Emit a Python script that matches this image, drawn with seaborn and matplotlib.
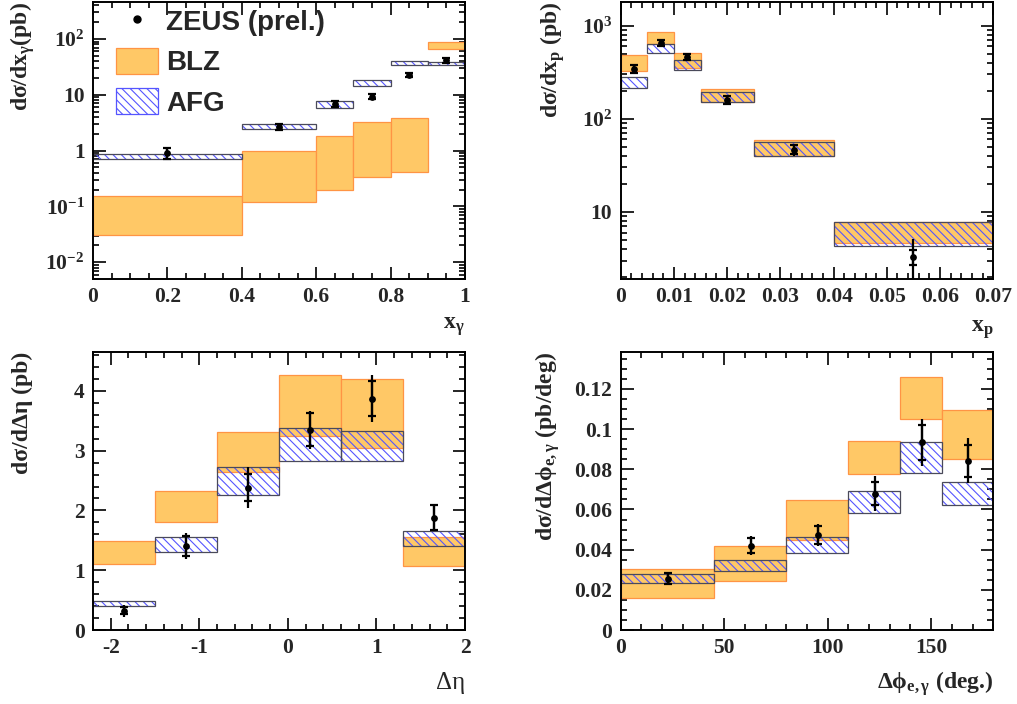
import numpy as np
import matplotlib
matplotlib.use('Agg')
import matplotlib.pyplot as plt
import matplotlib.ticker as mticker
from matplotlib.patches import Patch
from matplotlib.lines import Line2D
import seaborn as sns

# ---- data: x_gamma ----
xg_edges = [0, 0.4, 0.6, 0.7, 0.8, 0.9, 1.0]
xg_blz_lo = [0.031, 0.12, 0.197, 0.33, 0.42, 67]
xg_blz_hi = [0.156, 1.0, 1.8, 3.2, 3.8, 87]
xg_afg_lo = [0.70, 2.42, 5.9, 14.3, 33.7, 33.7]
xg_afg_hi = [0.87, 3.0, 7.6, 18.4, 40, 39]
xg_x = [0.2, 0.5, 0.65, 0.75, 0.85, 0.95]
xg_y = [0.90, 2.7, 6.9, 9.3, 22.6, 41.5]
xg_stat = [0.2, 0.35, 0.9, 1.0, 2.0, 4.0]
xg_tot = [0.22, 0.4, 1.0, 1.1, 2.3, 4.5]

# ---- data: x_p ----
xp_edges = [0, 0.005, 0.01, 0.015, 0.025, 0.04, 0.07]
xp_blz_lo = [327, 630, 352, 150, 40.3, 4.6]
xp_blz_hi = [489, 862, 513, 209, 58.8, 7.8]
xp_afg_lo = [212, 509, 331, 152, 40.3, 4.3]
xp_afg_hi = [282, 630, 428, 192, 56, 7.8]
xp_x = [0.0025, 0.0075, 0.0125, 0.02, 0.0325, 0.055]
xp_y = [346, 657, 461, 161, 46.7, 3.3]
xp_stat = [35, 45, 35, 15, 5, 0.6]
xp_tot = [45, 55, 45, 20, 7, 1.8]

# ---- data: delta eta ----
de_edges = [-2.2, -1.5, -0.8, -0.1, 0.6, 1.3, 2.0]
de_blz_lo = [1.107, 1.80, 2.64, 3.24, 3.04, 1.07]
de_blz_hi = [1.49, 2.33, 3.32, 4.26, 4.20, 1.55]
de_afg_lo = [0.395, 1.30, 2.25, 2.82, 2.83, 1.40]
de_afg_hi = [0.484, 1.56, 2.73, 3.38, 3.33, 1.65]
de_x = [-1.85, -1.15, -0.45, 0.25, 0.95, 1.65]
de_y = [0.32, 1.41, 2.38, 3.35, 3.87, 1.88]
de_stat = [0.06, 0.17, 0.23, 0.28, 0.29, 0.215]
de_tot = [0.10, 0.22, 0.34, 0.32, 0.39, 0.215]

# ---- data: delta phi ----
dp_edges = [0, 45, 80, 110, 135, 155, 180]
dp_blz_lo = [0.0158, 0.0242, 0.045, 0.0775, 0.1049, 0.0853]
dp_blz_hi = [0.0304, 0.0417, 0.0647, 0.0941, 0.1258, 0.1094]
dp_afg_lo = [0.0232, 0.0292, 0.0385, 0.0581, 0.078, 0.0621]
dp_afg_hi = [0.0279, 0.0349, 0.0461, 0.0692, 0.0936, 0.0739]
dp_x = [23, 63, 95.5, 123, 145.5, 168]
dp_y = [0.0256, 0.042, 0.0473, 0.0679, 0.0934, 0.0843]
dp_stat = [0.0028, 0.0036, 0.0047, 0.0057, 0.0089, 0.008]
dp_tot = [0.0030, 0.0046, 0.0053, 0.0087, 0.0118, 0.0111]

BLZ_FACE = '#ffc866'
BLZ_EDGE = '#ff9444'
AFG_HATCH = '#5555ff'
AFG_EDGE = '#4a4a5a'
TICK_SIZE = 15.5

sns.set_theme(style='ticks')
plt.rcParams['font.family'] = ['Liberation Serif', 'DejaVu Serif']
plt.rcParams['font.weight'] = 'bold'
plt.rcParams['mathtext.fontset'] = 'custom'
plt.rcParams['mathtext.rm'] = 'Liberation Serif:bold'
plt.rcParams['mathtext.it'] = 'Liberation Serif:bold'
plt.rcParams['mathtext.bf'] = 'Liberation Serif:bold'
plt.rcParams['mathtext.default'] = 'rm'
plt.rcParams['hatch.linewidth'] = 0.8
plt.rcParams['axes.linewidth'] = 1.4
plt.rcParams['axes.edgecolor'] = 'black'

fig = plt.figure(figsize=(10.17, 7.04), dpi=100)
ax1 = fig.add_axes([0.0914, 0.6037, 0.3658, 0.3935])
ax2 = fig.add_axes([0.6103, 0.6037, 0.3664, 0.3935])
ax3 = fig.add_axes([0.0914, 0.1051, 0.3658, 0.3949])
ax4 = fig.add_axes([0.6103, 0.1051, 0.3664, 0.3949])


def draw_panel(ax, edges, blz_lo, blz_hi, afg_lo, afg_hi, x, y, stat, tot):
    edges = np.array(edges)
    widths = np.diff(edges)
    blz_lo, blz_hi = np.array(blz_lo), np.array(blz_hi)
    afg_lo, afg_hi = np.array(afg_lo), np.array(afg_hi)
    ax.bar(edges[:-1], blz_hi - blz_lo, bottom=blz_lo, width=widths, align='edge',
           color=BLZ_FACE, edgecolor=BLZ_EDGE, linewidth=0.9, zorder=1)
    ax.bar(edges[:-1], afg_hi - afg_lo, bottom=afg_lo, width=widths, align='edge',
           facecolor='none', edgecolor=AFG_HATCH, hatch='\\\\\\\\', linewidth=0, zorder=2)
    ax.bar(edges[:-1], afg_hi - afg_lo, bottom=afg_lo, width=widths, align='edge',
           facecolor='none', edgecolor=AFG_EDGE, linewidth=0.9, zorder=2)
    ax.errorbar(x, y, yerr=tot, fmt='none', ecolor='black', elinewidth=1.6, capsize=0, zorder=4)
    ax.errorbar(x, y, yerr=stat, fmt='none', ecolor='black', elinewidth=1.6, capsize=3.2,
                capthick=1.6, zorder=4)
    sns.scatterplot(x=x, y=y, ax=ax, color='black', s=24, linewidth=0, zorder=5, legend=False)
    ax.set_xlim(edges[0], edges[-1])


def style_axis(ax):
    ax.tick_params(which='both', direction='in', top=True, right=True, width=1.2,
                   labelsize=TICK_SIZE, pad=6, color='black')
    ax.tick_params(which='major', length=9)
    ax.tick_params(which='minor', length=4.5)
    for lab in ax.get_xticklabels() + ax.get_yticklabels():
        lab.set_fontweight('bold')
    for sp in ax.spines.values():
        sp.set_visible(True)
        sp.set_linewidth(1.4)
    ax.grid(False)


# panel 1
draw_panel(ax1, xg_edges, xg_blz_lo, xg_blz_hi, xg_afg_lo, xg_afg_hi, xg_x, xg_y, xg_stat, xg_tot)
ax1.set_yscale('log')
ax1.set_ylim(5e-3, 460)
ax1.set_xticks([0, 0.2, 0.4, 0.6, 0.8, 1.0], ['0', '0.2', '0.4', '0.6', '0.8', '1'])
ax1.xaxis.set_minor_locator(mticker.MultipleLocator(0.05))
ax1.set_yticks([1e-2, 1e-1, 1, 10, 100],
               [r'$10^{-2}$', r'$10^{-1}$', '1', '10', r'$10^{2}$'])
ax1.yaxis.set_minor_locator(mticker.LogLocator(base=10, subs=np.arange(2, 10)))
ax1.yaxis.set_minor_formatter(mticker.NullFormatter())
ax1.set_ylabel(r'd$\sigma$/dx$_{\gamma}$(pb)', fontsize=17, fontweight='bold', loc='top')
ax1.yaxis.set_label_coords(-0.15, 1.0)
ax1.set_xlabel(r'x$_{\gamma}$', fontsize=17, fontweight='bold', loc='right')
ax1.xaxis.set_label_coords(1.0, -0.13)
style_axis(ax1)

handles = [
    Line2D([], [], marker='o', color='black', linestyle='none', markersize=5),
    Patch(facecolor=BLZ_FACE, edgecolor=BLZ_EDGE, linewidth=0.9),
    Patch(facecolor='white', edgecolor=AFG_HATCH, hatch='\\\\\\\\', linewidth=0.9),
]
leg = ax1.legend(handles, ['ZEUS (prel.)', 'BLZ', 'AFG'], loc='upper left',
                 bbox_to_anchor=(-0.004, 1.07), frameon=False, handlelength=1.5,
                 handleheight=1.05, handletextpad=0.3, labelspacing=0.43,
                 prop={'family': 'Liberation Sans', 'weight': 'bold', 'size': 20})

# panel 2
draw_panel(ax2, xp_edges, xp_blz_lo, xp_blz_hi, xp_afg_lo, xp_afg_hi, xp_x, xp_y, xp_stat, xp_tot)
ax2.set_yscale('log')
ax2.set_ylim(1.9, 1800)
ax2.set_xticks([0, 0.01, 0.02, 0.03, 0.04, 0.05, 0.06, 0.07],
               ['0', '0.01', '0.02', '0.03', '0.04', '0.05', '0.06', '0.07'])
ax2.xaxis.set_minor_locator(mticker.MultipleLocator(0.002))
ax2.set_yticks([10, 100, 1000], ['10', r'$10^{2}$', r'$10^{3}$'])
ax2.yaxis.set_minor_locator(mticker.LogLocator(base=10, subs=np.arange(2, 10)))
ax2.yaxis.set_minor_formatter(mticker.NullFormatter())
ax2.set_ylabel(r'd$\sigma$/dx$_{p}$ (pb)', fontsize=17, fontweight='bold', loc='top')
ax2.yaxis.set_label_coords(-0.144, 1.0)
ax2.set_xlabel(r'x$_{p}$', fontsize=17, fontweight='bold', loc='right')
ax2.xaxis.set_label_coords(1.0, -0.14)
style_axis(ax2)

# panel 3
draw_panel(ax3, de_edges, de_blz_lo, de_blz_hi, de_afg_lo, de_afg_hi, de_x, de_y, de_stat, de_tot)
ax3.set_ylim(0, 4.65)
ax3.set_xticks([-2, -1, 0, 1, 2], ['-2', '-1', '0', '1', '2'])
ax3.xaxis.set_minor_locator(mticker.MultipleLocator(0.2))
ax3.set_yticks([0, 1, 2, 3, 4], ['0', '1', '2', '3', '4'])
ax3.yaxis.set_minor_locator(mticker.MultipleLocator(0.2))
ax3.set_ylabel('dσ/dΔη (pb)', fontsize=17, fontweight='bold', loc='top')
ax3.yaxis.set_label_coords(-0.161, 1.0)
ax3.set_xlabel('Δη', fontsize=18, fontweight='normal', loc='right')
ax3.xaxis.set_label_coords(1.0, -0.15)
style_axis(ax3)

# panel 4
draw_panel(ax4, dp_edges, dp_blz_lo, dp_blz_hi, dp_afg_lo, dp_afg_hi, dp_x, dp_y, dp_stat, dp_tot)
ax4.set_ylim(0, 0.1384)
ax4.set_xticks([0, 50, 100, 150], ['0', '50', '100', '150'])
ax4.xaxis.set_minor_locator(mticker.MultipleLocator(10))
ax4.set_yticks([0, 0.02, 0.04, 0.06, 0.08, 0.1, 0.12],
               ['0', '0.02', '0.04', '0.06', '0.08', '0.1', '0.12'])
ax4.yaxis.set_minor_locator(mticker.MultipleLocator(0.005))
ax4.set_ylabel(r'd$\sigma$/d$\Delta\phi_{e,\gamma}$ (pb/deg)', fontsize=17,
               fontweight='bold', loc='top')
ax4.yaxis.set_label_coords(-0.158, 1.0)
ax4.set_xlabel(r'$\Delta\phi_{e,\gamma}$ (deg.)', fontsize=17, fontweight='bold', loc='right')
ax4.xaxis.set_label_coords(1.0, -0.14)
style_axis(ax4)

fig.savefig('out.png', dpi=100)
